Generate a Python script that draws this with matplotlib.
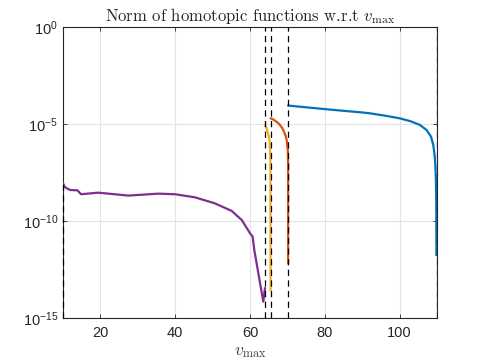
import matplotlib
matplotlib.use("Agg")
import matplotlib.pyplot as plt
import numpy as np

plt.rcParams['font.family'] = ['Liberation Sans', 'DejaVu Sans']
plt.rcParams['mathtext.fontset'] = 'custom'
plt.rcParams['mathtext.rm'] = 'Liberation Sans'
plt.rcParams['mathtext.it'] = 'Liberation Sans:italic'
plt.rcParams['mathtext.bf'] = 'Liberation Sans:bold'

# ---- data (log10 of norm) ----
purple_v = [10.0, 10.53, 11.87, 13.9, 14.8, 19.45, 27.5, 35.5, 39.9, 45.3, 50.6, 55.1, 57.8, 60.0, 60.7, 61.15, 63.56, 64.0]
purple_l = [-8.06, -8.26, -8.40, -8.42, -8.62, -8.54, -8.69, -8.59, -8.62, -8.78, -9.09, -9.48, -9.95, -10.63, -10.8, -11.5, -14.16, -13.47]

yellow_v = [64.0, 64.4, 64.7, 65.0, 65.2, 65.35, 65.45, 65.5]
yellow_l = [-5.05, -5.2, -5.40, -5.6, -5.82, -6.34, -7.0, -13.56]

orange_v = [65.55, 66.1, 66.7, 67.4, 68.0, 68.6, 69.1, 69.5, 69.8, 70.1, 70.2, 70.2]
orange_l = [-4.71, -4.75, -4.83, -4.93, -5.05, -5.2, -5.40, -5.6, -5.82, -6.34, -7.0, -12.18]

blue_v = [70.25, 75.0, 79.88, 85.0, 90.3, 92.1, 96.1, 100.1, 102.8, 105.45, 107.2, 108.4, 109.0, 109.3, 109.5, 109.7, 109.8, 109.85]
blue_l = [-4.05, -4.14, -4.23, -4.32, -4.41, -4.45, -4.57, -4.71, -4.85, -5.05, -5.31, -5.65, -6.08, -6.51, -6.94, -7.8, -9.0, -11.75]

boundaries = [64.0, 65.5, 70.2, 110.0]
xticks = [20, 40, 60, 80, 100]
yticks = [1e-15, 1e-10, 1e-5, 1e0]
ytick_labels = [r'$10^{-15}$', r'$10^{-10}$', r'$10^{-5}$', r'$10^{0}$']

fig = plt.figure(figsize=(4.82, 3.61), dpi=100)
ax = fig.add_axes([63/482, 1-318/361, (437-63)/482, (318-27)/361])

ax.set_yscale('log')
ax.set_xlim(10, 110)
ax.set_ylim(1e-15, 1e0)

lw = 1.6
ax.plot(purple_v, 10**np.array(purple_l), color='#7E2F8E', lw=lw, zorder=3)
ax.plot(yellow_v, 10**np.array(yellow_l), color='#EDB120', lw=lw, zorder=3)
ax.plot(orange_v, 10**np.array(orange_l), color='#D95319', lw=lw, zorder=3)
ax.plot(blue_v, 10**np.array(blue_l), color='#0072BD', lw=lw, zorder=3)

for b in boundaries:
    ax.axvline(b, color='black', lw=0.9, ls=(0, (5, 3.5)), zorder=4)
ax.vlines(10.0, 1e-15, 10**purple_l[0], color='black', lw=0.9, linestyles=[(0, (5, 3.5))], zorder=4, clip_on=False)

ax.set_xticks(xticks)
ax.set_yticks(yticks)
ax.set_yticklabels(ytick_labels)
ax.minorticks_off()
ax.tick_params(which='both', direction='in', top=True, right=True, length=3,
               width=0.6, colors='#262626', labelsize=10.5)
ax.tick_params(axis='x', pad=6)
ax.grid(True, color='#E3E3E3', lw=0.8)
ax.set_axisbelow(True)
for s in ax.spines.values():
    s.set_color('#262626')
    s.set_linewidth(0.8)

ax.set_title(r'Norm of homotopic functions w.r.t $v_{\max}$',
             fontsize=12, family='cmr10', math_fontfamily='cm', color='#262626', pad=4)
ax.set_xlabel(r'$v_{\max}$', fontsize=12.5, math_fontfamily='cm', color='#404040', labelpad=3)

fig.savefig('out.png', dpi=100)
